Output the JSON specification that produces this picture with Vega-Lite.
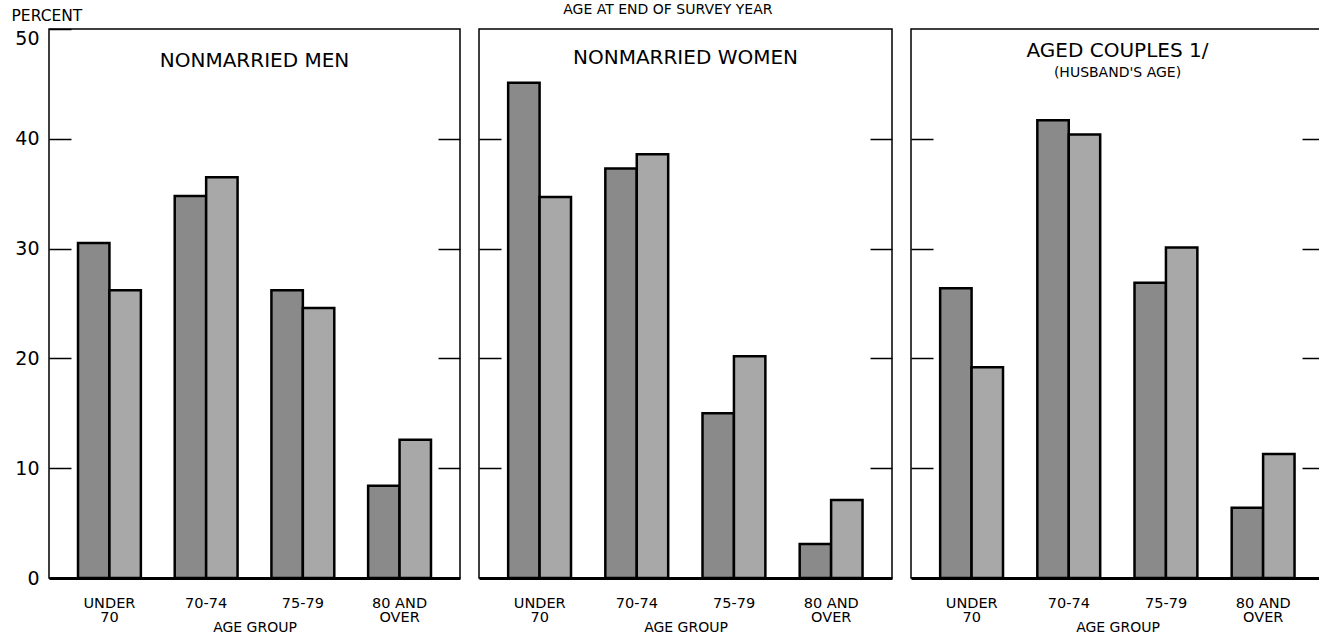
{
  "$schema": "https://vega.github.io/schema/vega-lite/v6.json",
  "padding": {"top": 3, "left": 10, "right": 0, "bottom": 0},
  "background": "white",
  "title": {"text": "AGE AT END OF SURVEY YEAR", "fontSize": 14, "font": "DejaVu Sans", "fontWeight": "normal", "anchor": "middle", "offset": -10, "frame": "bounds"},
  "config": {
    "font": "DejaVu Sans",
    "view": {"stroke": "black", "strokeWidth": 1.5},
    "title": {"font": "DejaVu Sans", "fontWeight": "normal", "fontSize": 20, "color": "black", "frame": "group", "anchor": "middle"},
    "axis": {"labelFont": "DejaVu Sans", "titleFont": "DejaVu Sans", "labelColor": "black", "titleColor": "black", "grid": false, "tickColor": "black", "domainColor": "black"}
  },
  "datasets": {
    "bars": [
      {"group": "NONMARRIED MEN", "age": "UNDER 70", "series": "Dotted", "value": 30.5},
      {"group": "NONMARRIED MEN", "age": "UNDER 70", "series": "Hatched", "value": 26.2},
      {"group": "NONMARRIED MEN", "age": "70-74", "series": "Dotted", "value": 34.8},
      {"group": "NONMARRIED MEN", "age": "70-74", "series": "Hatched", "value": 36.5},
      {"group": "NONMARRIED MEN", "age": "75-79", "series": "Dotted", "value": 26.2},
      {"group": "NONMARRIED MEN", "age": "75-79", "series": "Hatched", "value": 24.6},
      {"group": "NONMARRIED MEN", "age": "80 AND OVER", "series": "Dotted", "value": 8.4},
      {"group": "NONMARRIED MEN", "age": "80 AND OVER", "series": "Hatched", "value": 12.6},
      {"group": "NONMARRIED WOMEN", "age": "UNDER 70", "series": "Dotted", "value": 45.1},
      {"group": "NONMARRIED WOMEN", "age": "UNDER 70", "series": "Hatched", "value": 34.7},
      {"group": "NONMARRIED WOMEN", "age": "70-74", "series": "Dotted", "value": 37.3},
      {"group": "NONMARRIED WOMEN", "age": "70-74", "series": "Hatched", "value": 38.6},
      {"group": "NONMARRIED WOMEN", "age": "75-79", "series": "Dotted", "value": 15.0},
      {"group": "NONMARRIED WOMEN", "age": "75-79", "series": "Hatched", "value": 20.2},
      {"group": "NONMARRIED WOMEN", "age": "80 AND OVER", "series": "Dotted", "value": 3.1},
      {"group": "NONMARRIED WOMEN", "age": "80 AND OVER", "series": "Hatched", "value": 7.1},
      {"group": "AGED COUPLES", "age": "UNDER 70", "series": "Dotted", "value": 26.4},
      {"group": "AGED COUPLES", "age": "UNDER 70", "series": "Hatched", "value": 19.2},
      {"group": "AGED COUPLES", "age": "70-74", "series": "Dotted", "value": 41.7},
      {"group": "AGED COUPLES", "age": "70-74", "series": "Hatched", "value": 40.4},
      {"group": "AGED COUPLES", "age": "75-79", "series": "Dotted", "value": 26.9},
      {"group": "AGED COUPLES", "age": "75-79", "series": "Hatched", "value": 30.1},
      {"group": "AGED COUPLES", "age": "80 AND OVER", "series": "Dotted", "value": 6.4},
      {"group": "AGED COUPLES", "age": "80 AND OVER", "series": "Hatched", "value": 11.3}
    ]
  },
  "spacing": 15,
  "hconcat": [
    {
      "width": 411, "height": 549,
      "title": {"text": "NONMARRIED MEN", "offset": -63},
      "data": {"name": "bars"},
      "transform": [{"filter": "datum.group == 'NONMARRIED MEN'"}],
      "layer": [
        {
          "mark": {"type": "bar", "stroke": "black", "strokeWidth": 2.5},
          "encoding": {
            "x": {"field": "age", "type": "nominal", "sort": ["UNDER 70", "70-74", "75-79", "80 AND OVER"], "scale": {"paddingInner": 0.35, "paddingOuter": 0.3},
              "axis": {"orient": "bottom", "domainWidth": 3, "ticks": false, "labelAngle": 0, "labelPadding": 18, "labelFontSize": 14.5, "labelLineHeight": 14.5,
                "labelExpr": "datum.value == 'UNDER 70' ? ['UNDER', '70'] : datum.value == '80 AND OVER' ? ['80 AND', 'OVER'] : datum.label",
                "title": "AGE GROUP", "titleFontWeight": "normal", "titleFontSize": 14, "titlePadding": -4}},
            "xOffset": {"field": "series", "type": "nominal", "scale": {"paddingInner": 0, "paddingOuter": 0}},
            "y": {"field": "value", "type": "quantitative", "scale": {"domain": [0, 50], "nice": false},
              "axis": {"orient": "left", "values": [0, 10, 20, 30, 40, 50], "tickSize": -22, "tickWidth": 1.5, "domain": false, "labelFontSize": 19, "labelPadding": 32,
                "labelBaseline": {"condition": {"test": "datum.value == 50", "value": "top"}, "value": "middle"},
                "title": "PERCENT", "titleAngle": 0, "titleAlign": "left", "titleBaseline": "bottom", "titleX": -38, "titleY": -6, "titleFontWeight": "normal", "titleFontSize": 15.5}},
            "fill": {"field": "series", "type": "nominal", "scale": {"domain": ["Dotted", "Hatched"], "range": ["#8a8a8a", "#a8a8a8"]}, "legend": null}
          }
        },
        {
          "mark": {"type": "bar", "opacity": 0},
          "encoding": {
            "x": {"field": "age", "type": "nominal", "sort": ["UNDER 70", "70-74", "75-79", "80 AND OVER"]},
            "xOffset": {"field": "series", "type": "nominal"},
            "y": {"field": "value", "type": "quantitative", "axis": {"orient": "right", "values": [10, 20, 30, 40], "tickSize": -22, "tickWidth": 1.5, "labels": false, "domain": false, "title": null}}
          }
        }
      ],
      "resolve": {"axis": {"y": "independent"}}
    },
    {
      "width": 413, "height": 549,
      "title": {"text": "NONMARRIED WOMEN", "offset": -39},
      "data": {"name": "bars"},
      "transform": [{"filter": "datum.group == 'NONMARRIED WOMEN'"}],
      "layer": [
        {
          "mark": {"type": "bar", "stroke": "black", "strokeWidth": 2.5},
          "encoding": {
            "x": {"field": "age", "type": "nominal", "sort": ["UNDER 70", "70-74", "75-79", "80 AND OVER"], "scale": {"paddingInner": 0.35, "paddingOuter": 0.3},
              "axis": {"orient": "bottom", "domainWidth": 3, "ticks": false, "labelAngle": 0, "labelPadding": 18, "labelFontSize": 14.5, "labelLineHeight": 14.5,
                "labelExpr": "datum.value == 'UNDER 70' ? ['UNDER', '70'] : datum.value == '80 AND OVER' ? ['80 AND', 'OVER'] : datum.label",
                "title": "AGE GROUP", "titleFontWeight": "normal", "titleFontSize": 14, "titlePadding": -4}},
            "xOffset": {"field": "series", "type": "nominal", "scale": {"paddingInner": 0, "paddingOuter": 0}},
            "y": {"field": "value", "type": "quantitative", "scale": {"domain": [0, 50], "nice": false},
              "axis": {"orient": "left", "values": [10, 20, 30, 40], "tickSize": -22, "tickWidth": 1.5, "domain": false, "labels": false, "title": null}},
            "fill": {"field": "series", "type": "nominal", "scale": {"domain": ["Dotted", "Hatched"], "range": ["#8a8a8a", "#a8a8a8"]}, "legend": null}
          }
        },
        {
          "mark": {"type": "bar", "opacity": 0},
          "encoding": {
            "x": {"field": "age", "type": "nominal", "sort": ["UNDER 70", "70-74", "75-79", "80 AND OVER"]},
            "xOffset": {"field": "series", "type": "nominal"},
            "y": {"field": "value", "type": "quantitative", "axis": {"orient": "right", "values": [10, 20, 30, 40], "tickSize": -22, "tickWidth": 1.5, "labels": false, "domain": false, "title": null}}
          }
        }
      ],
      "resolve": {"axis": {"y": "independent"}}
    },
    {
      "width": 413, "height": 549,
      "title": {"text": "AGED COUPLES 1/", "subtitle": "(HUSBAND'S AGE)", "subtitleFontSize": 14, "subtitleFont": "DejaVu Sans", "subtitleColor": "black", "subtitlePadding": 5, "offset": -51},
      "data": {"name": "bars"},
      "transform": [{"filter": "datum.group == 'AGED COUPLES'"}],
      "layer": [
        {
          "mark": {"type": "bar", "stroke": "black", "strokeWidth": 2.5},
          "encoding": {
            "x": {"field": "age", "type": "nominal", "sort": ["UNDER 70", "70-74", "75-79", "80 AND OVER"], "scale": {"paddingInner": 0.35, "paddingOuter": 0.3},
              "axis": {"orient": "bottom", "domainWidth": 3, "ticks": false, "labelAngle": 0, "labelPadding": 18, "labelFontSize": 14.5, "labelLineHeight": 14.5,
                "labelExpr": "datum.value == 'UNDER 70' ? ['UNDER', '70'] : datum.value == '80 AND OVER' ? ['80 AND', 'OVER'] : datum.label",
                "title": "AGE GROUP", "titleFontWeight": "normal", "titleFontSize": 14, "titlePadding": -4}},
            "xOffset": {"field": "series", "type": "nominal", "scale": {"paddingInner": 0, "paddingOuter": 0}},
            "y": {"field": "value", "type": "quantitative", "scale": {"domain": [0, 50], "nice": false},
              "axis": {"orient": "left", "values": [10, 20, 30, 40], "tickSize": -22, "tickWidth": 1.5, "domain": false, "labels": false, "title": null}},
            "fill": {"field": "series", "type": "nominal", "scale": {"domain": ["Dotted", "Hatched"], "range": ["#8a8a8a", "#a8a8a8"]}, "legend": null}
          }
        },
        {
          "mark": {"type": "bar", "opacity": 0},
          "encoding": {
            "x": {"field": "age", "type": "nominal", "sort": ["UNDER 70", "70-74", "75-79", "80 AND OVER"]},
            "xOffset": {"field": "series", "type": "nominal"},
            "y": {"field": "value", "type": "quantitative", "axis": {"orient": "right", "values": [10, 20, 30, 40], "tickSize": -22, "tickWidth": 1.5, "labels": false, "domain": false, "title": null}}
          }
        }
      ],
      "resolve": {"axis": {"y": "independent"}}
    }
  ]
}
